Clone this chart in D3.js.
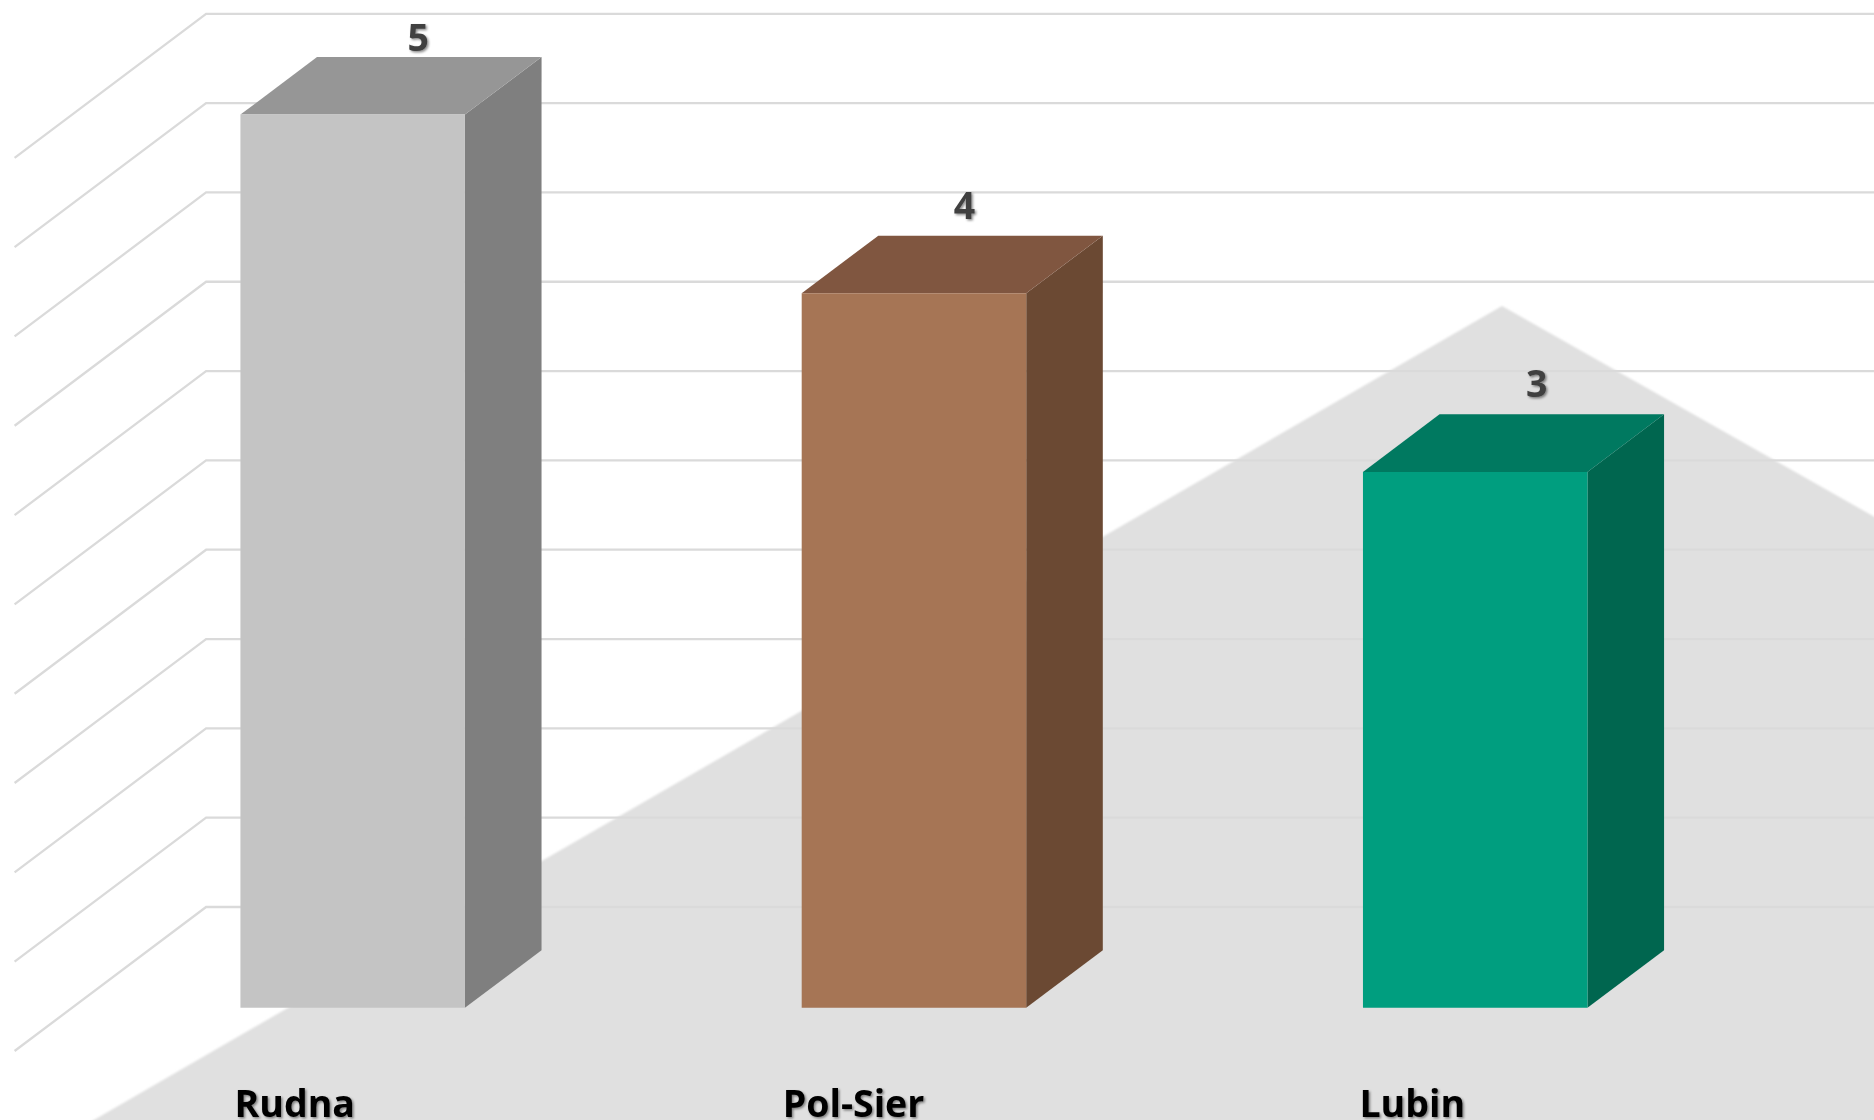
<!DOCTYPE html>
<html>
<head>
<meta charset="utf-8">
<script src="https://cdn.jsdelivr.net/npm/d3@7"></script>
<style>
html,body{margin:0;padding:0;background:#fff;overflow:hidden}
svg{display:block}
text{font-family:"Open Sans",sans-serif;font-weight:700}
</style>
</head>
<body>
<svg id="chart" width="1874" height="1120"></svg>
<script>
const categories = ["Rudna", "Pol-Sier", "Lubin"];
const values = [5, 4, 3];
const frontColors = ["#c4c4c4", "#a67555", "#009e7f"];
const topColors = ["#969696", "#805640", "#007960"];
const sideColors = ["#7f7f7f", "#6b4933", "#00664f"];
const gridTicks = [0, 0.5, 1, 1.5, 2, 2.5, 3, 3.5, 4, 4.5, 5];
const labelNudges = [[-11, -5], [-26, -16], [-15, -16]];
const axisNudges = [-0.5, -3, -5.5];

const W = 1874, H = 1120;
const svg = d3.select("#chart");
const x = d3.scaleBand().domain(categories).range([14.6, 1698.4]).paddingInner(0.6).paddingOuter(0.3);
const y = d3.scaleLinear().domain([0, 5]).range([1051, 157.8]);
const z = d3.scaleLinear().domain([0, 1]).range([0, 1]);
const depthX = 191.5, depthY = 144;
const zFront = 0.3, zBack = 0.7;
const proj = (px, py, d) => [px + z(d) * depthX, py - z(d) * depthY];
const poly = pts => "M" + pts.map(p => p.join(",")).join("L") + "Z";

const defs = svg.append("defs");
defs.append("filter").attr("id", "soft").append("feGaussianBlur").attr("stdDeviation", 1);
const shadow = defs.append("filter").attr("id", "shadow").attr("x", "-30%").attr("y", "-30%").attr("width", "160%").attr("height", "160%");
shadow.append("feDropShadow").attr("dx", 1.5).attr("dy", 1.5).attr("stdDeviation", 1.3).attr("flood-color", "#000").attr("flood-opacity", 0.45);

// Decorative backdrop
svg.append("path")
  .attr("d", "M87,1124L1502,306L1880,520L1880,1124Z")
  .attr("fill", "#e0e0e0").attr("filter", "url(#soft)");

// Gridlines: along the side wall, then along the back wall
svg.append("g").selectAll("path").data(gridTicks).join("path")
  .attr("fill", "none").attr("stroke", "#dadada").attr("stroke-width", 2.3)
  .attr("d", t => {
    const a = proj(x.range()[0], y(t), 0), b = proj(x.range()[0], y(t), 1);
    return d3.line()([a, b, [W + 5, b[1]]]);
  });

// Bars
const bars = svg.append("g").selectAll("g").data(categories).join("g");
bars.each(function (c, i) {
  const g = d3.select(this);
  const x0 = x(c), x1 = x(c) + x.bandwidth(), yt = y(values[i]), yb = y(0);
  const P = (px, py, d) => proj(px, py, d);
  g.append("path").attr("fill", sideColors[i]).attr("d", poly([P(x1, yt, zFront), P(x1, yt, zBack), P(x1, yb, zBack), P(x1, yb, zFront)]));
  g.append("path").attr("fill", topColors[i]).attr("d", poly([P(x0, yt, zFront), P(x0, yt, zBack), P(x1, yt, zBack), P(x1, yt, zFront)]));
  g.append("path").attr("fill", frontColors[i]).attr("d", poly([P(x0, yt, zFront), P(x1, yt, zFront), P(x1, yb, zFront), P(x0, yb, zFront)]));
  const top = P(x(c) + x.bandwidth() / 2, yt, zBack);
  g.append("text")
    .attr("x", top[0] + labelNudges[i][0])
    .attr("y", top[1] + labelNudges[i][1])
    .attr("dy", -1)
    .attr("text-anchor", "middle")
    .attr("font-size", 37.5)
    .attr("fill", "#404040")
    .attr("filter", "url(#shadow)")
    .text(values[i]);
});

// Category axis
const axis = svg.append("g").attr("transform", "translate(0,1117)")
  .call(d3.axisBottom(x).tickSize(0).tickPadding(0));
axis.select(".domain").remove();
axis.selectAll("text")
  .attr("x", (d, i) => axisNudges[i])
  .attr("y", 0).attr("dy", 0)
  .attr("font-size", 37.5)
  .attr("font-family", '"Open Sans",sans-serif')
  .attr("font-weight", 700)
  .attr("fill", "#000")
  .attr("filter", "url(#shadow)");
</script>
</body>
</html>
